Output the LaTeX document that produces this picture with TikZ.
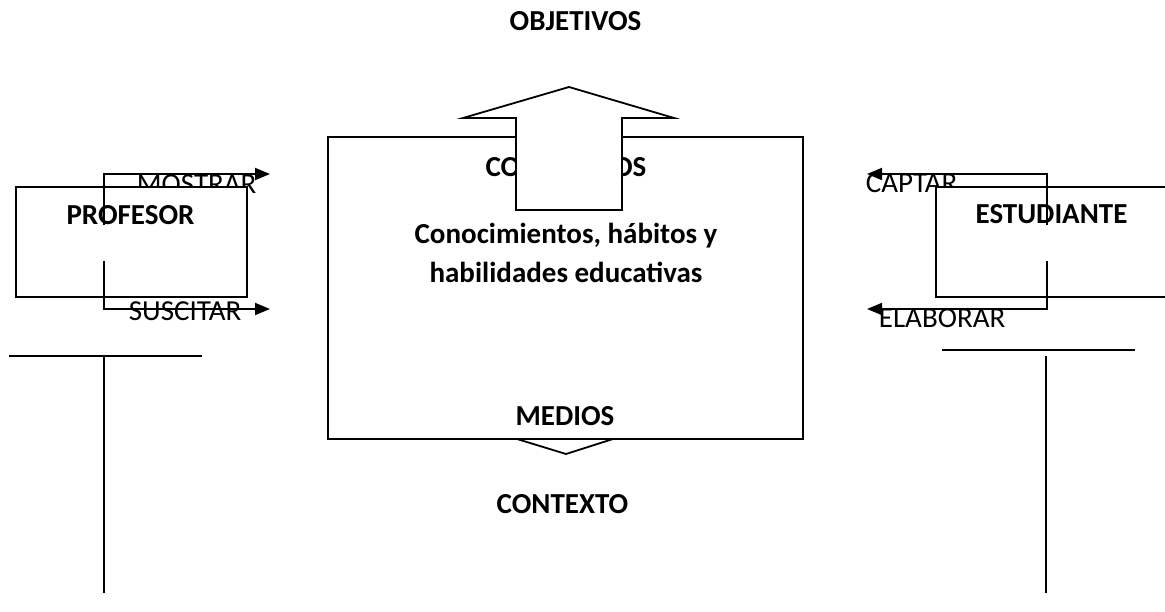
\documentclass[tikz,border=0pt]{standalone}
\usepackage{fontspec}
\setmainfont{Carlito}
\usetikzlibrary{arrows.meta}
\begin{document}
\begin{tikzpicture}[x=1pt,y=-1pt,line width=1.8pt,
  lbl/.style={inner sep=0pt,font=\fontsize{29}{39}\selectfont},
  blbl/.style={inner sep=0pt,font=\fontsize{29}{39}\selectfont\bfseries},
  boxshape/.style={draw,fill=white,inner sep=0pt,line width=1.8pt},
  flow/.style={-{Triangle[length=15pt,width=12pt]}},
  bigarrow/.style={draw,fill=white,line width=1.8pt,line join=miter}]
\useasboundingbox (0,0) rectangle (1165,612);
\clip (0,0) rectangle (1165,612);
% labels behind the side boxes
\node[lbl,anchor=base west] (mostrar) at (136,194) {MOSTRAR};
\node[lbl,anchor=base west] (captar) at (865,193) {CAPTAR};
% down arrow behind the central box
\draw[bigarrow] (517,400) -- (517,439) -- (566,454) -- (613,439) -- (613,400);
% central box
\node[boxshape,minimum width=475pt,minimum height=302pt] (central) at (565.5,288) {};
\node[blbl,anchor=base] (contenidos) at (566,177) {CONTENIDOS};
% up arrow
\draw[bigarrow] (516,210) -- (516,118) -- (463,118) -- (569,87) -- (674,118) -- (622,118) -- (622,210) -- cycle;
\node[blbl,anchor=base] (con1) at (566,244) {Conocimientos, hábitos y};
\node[blbl,anchor=base] (con2) at (566,283) {habilidades educativas};
\node[blbl,anchor=base] (medios) at (565,425) {MEDIOS};
\node[blbl,anchor=base] (objetivos) at (575.5,31) {OBJETIVOS};
\node[blbl,anchor=base] (contexto) at (562.5,513) {CONTEXTO};
% side boxes
\node[boxshape,minimum width=231pt,minimum height=110pt] (profbox) at (131.5,242) {};
\node[boxshape,minimum width=260pt,minimum height=110pt] (estbox) at (1066,242) {};
% flow arrows
\coordinate (pm0) at (104,225);
\coordinate (pm1) at (104,174);
\coordinate (pm2) at (270,174);
\coordinate (ps0) at (104,261);
\coordinate (ps1) at (104,309);
\coordinate (ps2) at (270,309);
\coordinate (ec0) at (1047,225);
\coordinate (ec1) at (1047,174);
\coordinate (ec2) at (867,174);
\coordinate (ee0) at (1047,261);
\coordinate (ee1) at (1047,309);
\coordinate (ee2) at (867,309);
\draw[flow] (pm0) -- (pm1) -- (pm2);
\draw[flow] (ps0) -- (ps1) -- (ps2);
\draw[flow] (ec0) -- (ec1) -- (ec2);
\draw[flow] (ee0) -- (ee1) -- (ee2);
\node[blbl,anchor=base] (profesor) at (130.5,225) {PROFESOR};
\node[blbl,anchor=base] (estudiante) at (1051.5,224) {ESTUDIANTE};
\node[lbl,anchor=base west] (suscitar) at (128,321) {SUSCITAR};
\node[lbl,anchor=base west] (elaborar) at (878,328) {ELABORAR};
% T lines
\coordinate (lt1) at (9,356);
\coordinate (lt2) at (202,356);
\coordinate (lt3) at (104,356);
\coordinate (lt4) at (104,593);
\draw (lt1) -- (lt2);
\draw (lt3) -- (lt4);
\coordinate (rt1) at (942,350);
\coordinate (rt2) at (1135,350);
\coordinate (rt3) at (1046,356);
\coordinate (rt4) at (1046,593);
\draw (rt1) -- (rt2);
\draw (rt3) -- (rt4);
\end{tikzpicture}
\end{document}
